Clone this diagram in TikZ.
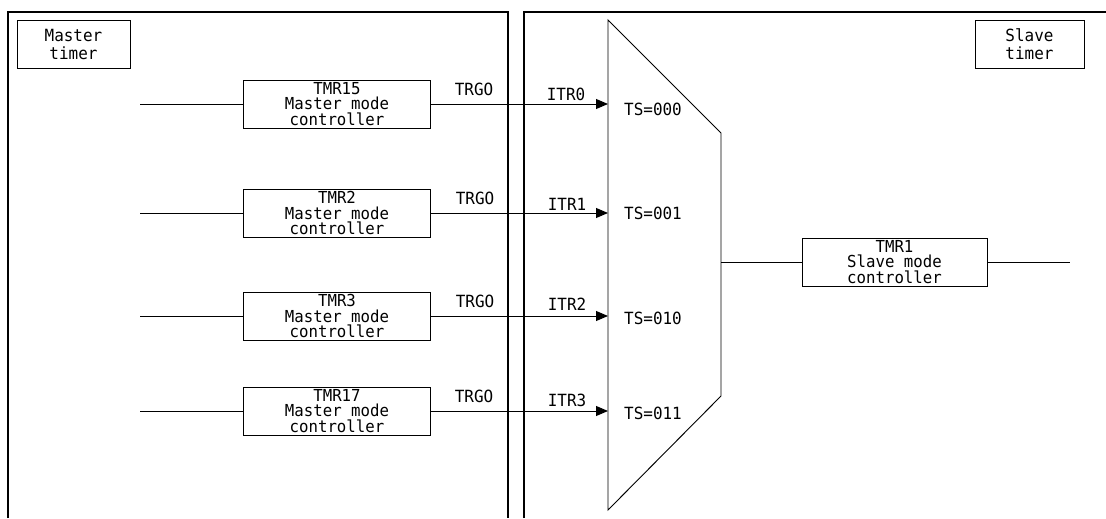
\documentclass[tikz,border=0pt]{standalone}
\usepackage{fontspec}
\newfontfamily\tmono[FakeStretch=0.95]{DejaVu Sans Mono}
\usetikzlibrary{arrows.meta}
\begin{document}
\begin{tikzpicture}[x=0.75pt,y=-0.75pt,
  panel/.style={line width=0.9pt},
  wire/.style={line width=0.7pt},
  arr/.style={wire,-{Triangle[length=9pt,width=7.5pt]}},
  blk/.style={draw,line width=0.7pt,inner sep=0pt,minimum width=140.25pt,minimum height=36pt,
    font=\tmono\fontsize{12.4}{11.7}\selectfont,align=center},
  tbox/.style={draw,line width=0.7pt,inner sep=0pt,minimum height=36pt,
    font=\tmono\fontsize{12.6}{13.5}\selectfont,align=center},
  lbl/.style={font=\tmono\fontsize{12.6}{13}\selectfont,inner sep=0pt}
]
\useasboundingbox (0,0) rectangle (1106,518);
% panels
\draw[panel] (8,518) -- (8,12) -- (508,12) -- (508,518);
\draw[panel] (524,518) -- (524,12) -- (1106,12);
\node[tbox,minimum width=84.75pt] (mt) at (73.5,44) {Master\\timer};
\node[tbox,minimum width=81.75pt] (st) at (1029.5,44) {Slave\\timer};
% multiplexer
\draw[wire] (608,20) -- (721,133) -- (721,396) -- (608,510) -- cycle;
\coordinate (i0) at (608,104);
\coordinate (i1) at (608,213);
\coordinate (i2) at (608,316);
\coordinate (i3) at (608,411);
\coordinate (mo) at (721,262);
\node[lbl] (ts0) at (653,109) {TS=000};
\node[lbl] (ts1) at (653,213) {TS=001};
\node[lbl] (ts2) at (653,318) {TS=010};
\node[lbl] (ts3) at (653,413) {TS=011};
% master rows
\foreach \n/\t/\y in {m0/TMR15/104, m1/TMR2/213, m2/TMR3/316, m3/TMR17/411}{
  \coordinate (\n in) at (140,\y);
  \node[blk] (\n) at (337,\y) {\t\\Master mode\\controller};
  \draw[wire] (\n in) -- (\n.west);
}
\draw[arr] (m0.east) -- (i0);
\draw[arr] (m1.east) -- (i1);
\draw[arr] (m2.east) -- (i2);
\draw[arr] (m3.east) -- (i3);
\node[lbl] (tg0) at (474,89) {TRGO};
\node[lbl] (tg1) at (475,198) {TRGO};
\node[lbl] (tg2) at (475,301) {TRGO};
\node[lbl] (tg3) at (474,396) {TRGO};
\node[lbl] (it0) at (566,94) {ITR0};
\node[lbl] (it1) at (567,204) {ITR1};
\node[lbl] (it2) at (567,304) {ITR2};
\node[lbl] (it3) at (567,400) {ITR3};
% slave
\node[blk,minimum width=138.75pt] (s) at (894.5,262) {TMR1\\Slave mode\\controller};
\coordinate (so) at (1070,262);
\draw[wire] (mo) -- (s.west);
\draw[wire] (s.east) -- (so);
\end{tikzpicture}
\end{document}
